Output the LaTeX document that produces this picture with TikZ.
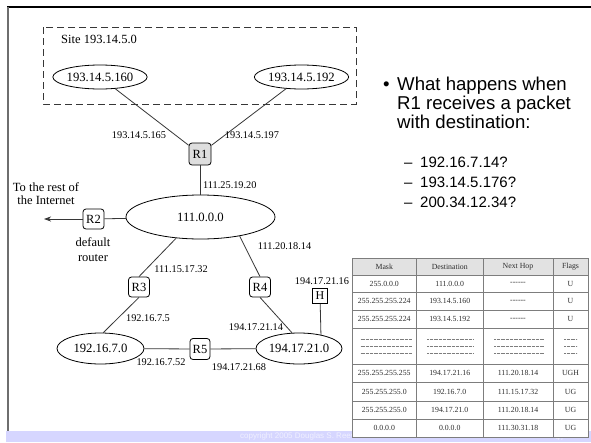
\documentclass[tikz,border=0pt]{standalone}
\usepackage{fontspec}
\setmainfont{Liberation Serif}
\newfontfamily\arial{Liberation Sans}
\usetikzlibrary{shapes.geometric,arrows.meta}

\definecolor{barblue}{RGB}{214,214,255}
\definecolor{barlight}{RGB}{240,240,255}
\definecolor{wirec}{RGB}{55,55,55}
\definecolor{rtrfill}{RGB}{222,222,222}
\definecolor{hdrfill}{RGB}{226,226,226}
\definecolor{gridc}{RGB}{125,125,125}
\definecolor{celltxt}{RGB}{45,45,45}
\definecolor{framegray}{RGB}{110,110,110}

\newcommand\nohop{-{}-{}-{}-{}-{}-}

\begin{document}
\begin{tikzpicture}[x=1pt,y=-1pt,
  net/.style={ellipse,draw=black,line width=0.8pt,inner sep=0pt,
    font=\fontsize{12.7}{14}\selectfont},
  rtr/.style={draw=black,line width=0.8pt,rounded corners=3pt,
    minimum width=21pt,minimum height=20pt,inner sep=0pt,
    font=\fontsize{12.5}{14}\selectfont},
  hostbox/.style={draw=black,line width=0.8pt,minimum width=15pt,
    minimum height=15pt,inner sep=0pt,font=\fontsize{12}{14}\selectfont},
  addr/.style={inner sep=0pt,font=\fontsize{10.3}{12}\selectfont},
  plain/.style={inner sep=0pt,font=\fontsize{12.5}{14}\selectfont},
  wire/.style={draw=wirec,line width=0.8pt},
  bigtxt/.style={inner sep=0pt,anchor=base west,font=\arial\fontsize{18.6}{22}\selectfont},
  subtxt/.style={inner sep=0pt,anchor=base west,font=\arial\fontsize{15}{18}\selectfont},
  cell/.style={inner sep=0pt,text=celltxt,font=\fontsize{7.8}{9}\selectfont},
  dotrow/.style={draw=gridc,line width=0.35pt,dash pattern=on 0.4pt off 0.9pt},
  grid/.style={draw=gridc,line width=0.6pt}
]
\useasboundingbox (0,0) rectangle (591,442);
\fill[white] (0,0) rectangle (591,442);

% slide frame and footer bar
\fill[barblue] (6,431) rectangle (591,442);
\draw[black,line width=1.3pt] (7,7) -- (591,7);
\draw[framegray,line width=2pt] (8,7) -- (8,431);
\node[anchor=west,inner sep=0pt,text=barlight,font=\arial\fontsize{8}{9}\selectfont] (copy) at (240,436.5) {copyright 2005 Douglas S. Reeves};
\node[inner sep=0pt,text=barlight,font=\arial\fontsize{8}{9}\selectfont] (pageno) at (560,437.5) {47};

% site 193.14.5.0
\draw[draw=wirec,line width=0.7pt,dash pattern=on 7pt off 4pt] (43,27) rectangle (356,104);
\node[plain,anchor=west] (sitelbl) at (61,39.5) {Site 193.14.5.0};
\node[net,minimum width=86pt,minimum height=24pt] (n160) at (100,77) {193.14.5.160};
\node[net,minimum width=91pt,minimum height=24pt] (n192) at (301.5,77) {193.14.5.192};

% router R1
\node[rtr,fill=rtrfill,minimum width=22pt,minimum height=22pt] (R1) at (200,154) {R1};
\draw[wire] (n160) -- (R1);
\draw[wire] (n192) -- (R1);
\node[addr] (a165) at (139,135) {193.14.5.165};
\node[addr] (a197) at (252,135) {193.14.5.197};

% backbone 111.0.0.0
\node[net,minimum width=149pt,minimum height=44pt] (n111) at (200.5,217) {111.0.0.0};
\draw[wire] (R1) -- (R1 |- n111.north);
\node[addr,anchor=west] (a1920) at (203,185) {111.25.19.20};

% default router R2
\node[rtr] (R2) at (93.5,219) {R2};
\coordinate (inet) at (44,219);
\draw[wire] (n111) -- (R2);
\draw[wire,-{Stealth[length=7pt,width=5pt,inset=2pt]}] (R2) -- (inet);
\node[plain,align=center] (inetlbl) at (46,193.5) {To the rest of\\[-1.5pt]the Internet};
\node[plain,align=center] (deflbl) at (93,249.5) {default\\[0.5pt]router};

% routers R3 and R4
\node[rtr] (R3) at (139,287) {R3};
\node[rtr] (R4) at (260,287) {R4};
\draw[wire] (n111.-139) -- (R3.north);
\draw[wire] (n111.-26) -- (R4.north);
\node[addr] (a1732) at (181,269) {111.15.17.32};
\node[addr] (a1814) at (284.5,246) {111.20.18.14};

% networks 192.16.7.0 and 194.17.21.0
\node[net,minimum width=87pt,minimum height=31pt] (n1927) at (100.5,348.5) {192.16.7.0};
\node[net,minimum width=86pt,minimum height=31pt] (n194) at (299,348.5) {194.17.21.0};
\draw[wire] (R3.south) -- (n1927.80);
\draw[wire] (R4.south) -- (n194.114);
\node[addr] (a75) at (148,318) {192.16.7.5};
\node[addr] (a2114) at (256,327) {194.17.21.14};

% host H
\node[hostbox] (H) at (320,296) {H};
\draw[wire] (H) -- (n194.32.7);
\node[addr] (a2116) at (322,281) {194.17.21.16};

% router R5
\node[rtr,minimum width=20pt,minimum height=21pt] (R5) at (200,349) {R5};
\draw[wire] (n1927) -- (R5);
\draw[wire] (R5) -- (n194);
\node[addr] (a752) at (161,362.5) {192.16.7.52};
\node[addr] (a2168) at (239,367) {194.17.21.68};

% questions
\node[bigtxt] (bul) at (383,90) {\textbullet};
\node[bigtxt] (q1) at (397,90) {What happens when};
\node[bigtxt] (q2) at (397,109) {R1 receives a packet};
\node[bigtxt] (q3) at (397,128) {with destination:};
\node[subtxt] (d1) at (404,167.4) {–};
\node[subtxt] (d2) at (404,187.4) {–};
\node[subtxt] (d3) at (404,207.4) {–};
\node[subtxt] (s1) at (420,167.4) {192.16.7.14?};
\node[subtxt] (s2) at (420,187.4) {193.14.5.176?};
\node[subtxt] (s3) at (420,207.4) {200.34.12.34?};

% routing table of R1
\fill[white] (352,258) rectangle (588,437);
\fill[hdrfill] (352,258) rectangle (588,275);
\foreach \yy in {275,292,310,328,364,382,401,419}
  \draw[grid] (352,\yy) -- (588,\yy);
\foreach \xx in {416.5,483,553}
  \draw[grid] (\xx,258) -- (\xx,437);
\draw[draw=gridc,line width=0.9pt] (352,258) rectangle (588,437);

\node[cell] (hmask) at (384.25,266.5) {Mask};
\node[cell] (hdest) at (449.75,266.5) {Destination};
\node[cell] (hhop) at (518,266.5) {Next Hop};
\node[cell] (hflag) at (570.5,266.5) {Flags};

\foreach \yy/\mk/\ds/\hp/\fl [count=\i] in {
  283.5/255.0.0.0/111.0.0.0/\nohop/U,
  301/255.255.255.224/193.14.5.160/\nohop/U,
  319/255.255.255.224/193.14.5.192/\nohop/U,
  373/255.255.255.255/194.17.21.16/111.20.18.14/UGH,
  391.5/255.255.255.0/192.16.7.0/111.15.17.32/UG,
  410/255.255.255.0/194.17.21.0/111.20.18.14/UG,
  428/0.0.0.0/0.0.0.0/111.30.31.18/UG}{
  \node[cell] (mk\i) at (384.25,\yy) {\mk};
  \node[cell] (ds\i) at (449.75,\yy) {\ds};
  \node[cell] (hp\i) at (518,\yy) {\hp};
  \node[cell] (fl\i) at (570.5,\yy) {\fl};
}

% elided rows
\foreach \yy in {339,346,353}{
  \draw[dotrow] (360.5,\yy) -- (411.5,\yy);
  \draw[dotrow] (427,\yy) -- (473,\yy);
  \draw[dotrow] (494,\yy) -- (544,\yy);
  \draw[dotrow] (564,\yy) -- (577,\yy);
}
\end{tikzpicture}
\end{document}
